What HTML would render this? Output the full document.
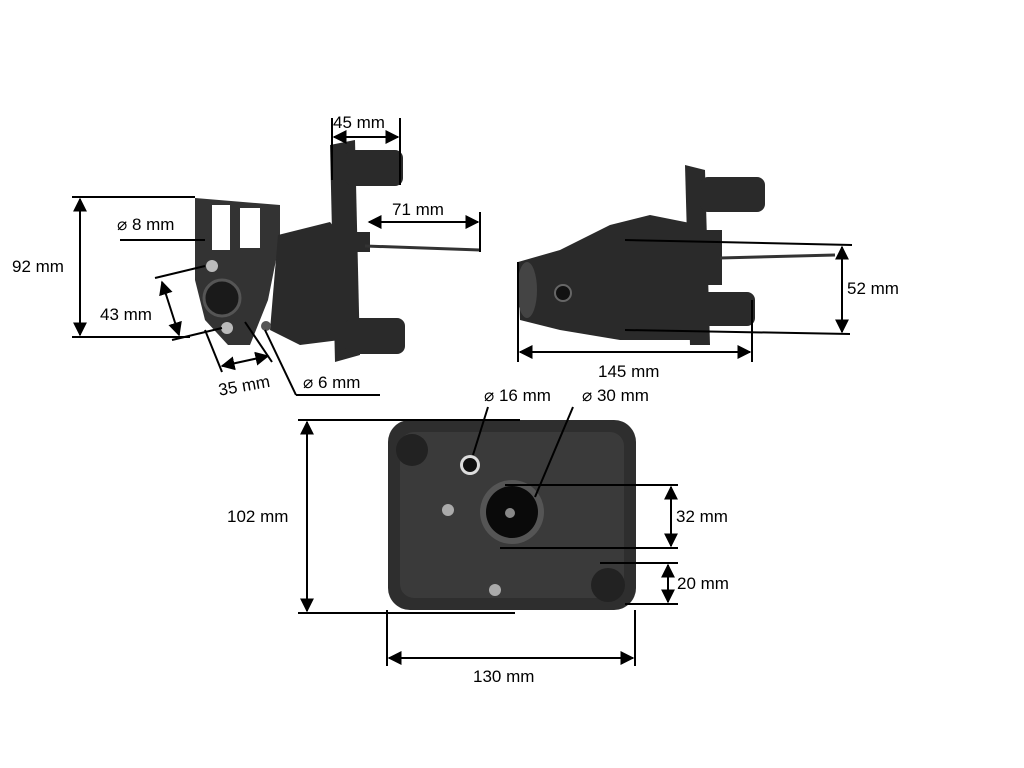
<!DOCTYPE html>
<html><head><meta charset="utf-8"><style>
html,body{margin:0;padding:0;background:#fff;}
svg{display:block;}
text{font-family:"Liberation Sans",sans-serif;font-size:17px;fill:#000;}
</style></head><body>
<svg width="1024" height="768" viewBox="0 0 1024 768" xmlns="http://www.w3.org/2000/svg">
<defs>
<marker id="a" viewBox="0 0 10 10" refX="9" refY="5" markerWidth="7" markerHeight="7" orient="auto-start-reverse"><path d="M0,0 L10,5 L0,10 z" fill="#000"/></marker>
</defs>

<!-- LEFT PART -->
<g fill="#2a2a2a">
<path d="M195,198 L280,205 L280,240 L268,300 L250,345 L228,345 L205,320 L195,280 Z" fill="#333"/>
<rect x="212" y="205" width="18" height="45" fill="#fff"/>
<rect x="240" y="208" width="20" height="40" fill="#fff"/>
<path d="M278,235 L330,222 L345,240 L340,340 L300,345 L270,330 Z"/>
<path d="M330,145 L355,140 L360,355 L335,362 Z"/>
<rect x="345" y="150" width="58" height="36" rx="8"/>
<rect x="345" y="318" width="60" height="36" rx="8"/>
<rect x="350" y="232" width="20" height="20"/>
<line x1="365" y1="246" x2="480" y2="250" stroke="#333" stroke-width="3"/>
<circle cx="222" cy="298" r="18" fill="#1a1a1a" stroke="#555" stroke-width="3"/>
<circle cx="212" cy="266" r="6" fill="#bbb"/>
<circle cx="227" cy="328" r="6" fill="#bbb"/>
<circle cx="266" cy="326" r="5" fill="#555"/>
</g>

<!-- RIGHT PART -->
<g fill="#2a2a2a">
<path d="M518,262 L560,250 L610,225 L650,215 L700,225 L705,340 L620,340 L560,330 L520,320 Z"/>
<path d="M685,165 L705,170 L710,345 L690,345 Z"/>
<rect x="700" y="177" width="65" height="35" rx="8"/>
<rect x="700" y="292" width="55" height="34" rx="8"/>
<rect x="700" y="230" width="22" height="55"/>
<line x1="720" y1="258" x2="835" y2="255" stroke="#333" stroke-width="3"/>
<ellipse cx="527" cy="290" rx="10" ry="28" fill="#444"/>
<circle cx="563" cy="293" r="8" fill="#111" stroke="#666" stroke-width="2"/>
</g>

<!-- BOTTOM PART -->
<rect x="388" y="420" width="248" height="190" rx="22" fill="#2e2e2e"/>
<rect x="400" y="432" width="224" height="166" rx="14" fill="#3a3a3a"/>
<circle cx="412" cy="450" r="16" fill="#222"/>
<circle cx="608" cy="585" r="17" fill="#222"/>
<circle cx="470" cy="465" r="10" fill="#ddd"/><circle cx="470" cy="465" r="7" fill="#111"/>
<circle cx="512" cy="512" r="32" fill="#555"/><circle cx="512" cy="512" r="26" fill="#0a0a0a"/>
<circle cx="510" cy="513" r="5" fill="#888"/>
<circle cx="448" cy="510" r="6" fill="#aaa"/><circle cx="495" cy="590" r="6" fill="#aaa"/>

<!-- DIMENSION LINES -->
<g stroke="#000" stroke-width="2" fill="none">
<line x1="72" y1="197" x2="195" y2="197"/><line x1="72" y1="337" x2="190" y2="337"/>
<line x1="80" y1="199" x2="80" y2="335" marker-start="url(#a)" marker-end="url(#a)"/>
<line x1="120" y1="240" x2="205" y2="240"/>
<line x1="155" y1="278" x2="205" y2="266"/><line x1="172" y1="340" x2="222" y2="328"/>
<line x1="162" y1="282" x2="179" y2="335" marker-start="url(#a)" marker-end="url(#a)"/>
<line x1="205" y1="330" x2="222" y2="372"/><line x1="245" y1="322" x2="272" y2="362"/>
<line x1="222" y1="366" x2="268" y2="356" marker-start="url(#a)" marker-end="url(#a)"/>
<line x1="265" y1="330" x2="296" y2="395"/><line x1="296" y1="395" x2="380" y2="395"/>
<line x1="332" y1="118" x2="332" y2="180"/><line x1="400" y1="118" x2="400" y2="185"/>
<line x1="334" y1="137" x2="398" y2="137" marker-start="url(#a)" marker-end="url(#a)"/>
<line x1="480" y1="212" x2="480" y2="252"/>
<line x1="369" y1="222" x2="478" y2="222" marker-start="url(#a)" marker-end="url(#a)"/>
<line x1="625" y1="240" x2="852" y2="245"/><line x1="625" y1="330" x2="850" y2="334"/>
<line x1="842" y1="247" x2="842" y2="332" marker-start="url(#a)" marker-end="url(#a)"/>
<line x1="518" y1="262" x2="518" y2="362"/><line x1="752" y1="300" x2="752" y2="362"/>
<line x1="520" y1="352" x2="750" y2="352" marker-start="url(#a)" marker-end="url(#a)"/>
<line x1="488" y1="407" x2="473" y2="455"/><line x1="573" y1="407" x2="535" y2="497"/>
<line x1="298" y1="420" x2="520" y2="420"/><line x1="298" y1="613" x2="515" y2="613"/>
<line x1="307" y1="422" x2="307" y2="611" marker-start="url(#a)" marker-end="url(#a)"/>
<line x1="505" y1="485" x2="678" y2="485"/><line x1="500" y1="548" x2="678" y2="548"/>
<line x1="671" y1="487" x2="671" y2="546" marker-start="url(#a)" marker-end="url(#a)"/>
<line x1="600" y1="563" x2="678" y2="563"/><line x1="625" y1="604" x2="678" y2="604"/>
<line x1="668" y1="565" x2="668" y2="602" marker-start="url(#a)" marker-end="url(#a)"/>
<line x1="387" y1="610" x2="387" y2="666"/><line x1="635" y1="610" x2="635" y2="666"/>
<line x1="389" y1="658" x2="633" y2="658" marker-start="url(#a)" marker-end="url(#a)"/>
</g>

<!-- LABELS -->
<text x="12" y="272">92 mm</text>
<text x="100" y="320">43 mm</text>
<text x="117" y="230">⌀ 8 mm</text>
<text x="218" y="392" transform="rotate(-10 240 385)">35 mm</text>
<text x="303" y="388">⌀ 6 mm</text>
<text x="333" y="128">45 mm</text>
<text x="392" y="215">71 mm</text>
<text x="847" y="294">52 mm</text>
<text x="598" y="377">145 mm</text>
<text x="484" y="401">⌀ 16 mm</text>
<text x="582" y="401">⌀ 30 mm</text>
<text x="227" y="522">102 mm</text>
<text x="676" y="522">32 mm</text>
<text x="677" y="589">20 mm</text>
<text x="473" y="682">130 mm</text>
</svg>
</body></html>
